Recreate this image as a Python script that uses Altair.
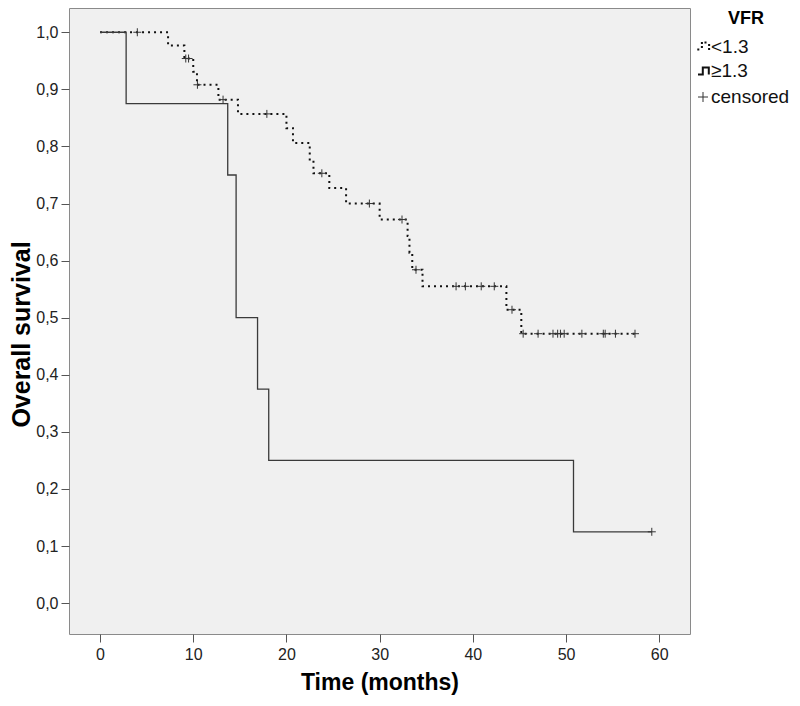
import altair as alt
import pandas as pd

# ---- data ----
# group "<1.3" (dotted) : step times and survival after each step
a_times = [0, 7.3, 9.05, 10.0, 10.4, 12.7, 14.8, 20.0, 20.7, 22.5, 22.9, 24.6,
           26.4, 30.0, 33.0, 33.2, 33.5, 34.6, 43.6, 45.2, 57.4]
a_surv = [1.0, 0.977, 0.954, 0.931, 0.908, 0.882, 0.857, 0.832, 0.806, 0.775,
          0.753, 0.727, 0.700, 0.672, 0.643, 0.614, 0.584, 0.555, 0.514, 0.472, 0.472]
a_cens_t = [4.0, 9.2, 9.5, 10.45, 13.2, 17.9, 23.8, 28.9, 32.4, 33.9, 38.2, 39.2,
            40.9, 42.3, 44.2, 45.4, 47.0, 48.6, 49.1, 49.4, 49.8, 51.7, 54.0,
            54.2, 55.3, 57.4]
a_cens_s = [1.0, 0.954, 0.954, 0.908, 0.882, 0.857, 0.753, 0.700, 0.672, 0.584,
            0.555, 0.555, 0.555, 0.555, 0.514, 0.472, 0.472, 0.472, 0.472, 0.472,
            0.472, 0.472, 0.472, 0.472, 0.472, 0.472]

# group ">=1.3" (solid)
b_times = [0, 2.8, 13.7, 14.6, 16.9, 18.1, 50.8, 59.2]
b_surv = [1.0, 0.875, 0.75, 0.5, 0.375, 0.25, 0.125, 0.125]
b_cens_t = [59.2]
b_cens_s = [0.125]

x_ticks = [0, 10, 20, 30, 40, 50, 60]
y_ticks = [0.0, 0.1, 0.2, 0.3, 0.4, 0.5, 0.6, 0.7, 0.8, 0.9, 1.0]

legend_title = "VFR"
legend_labels = ["<1.3", "\u22651.3", "censored"]

# ---- tables ----
df_a = pd.DataFrame({"t": a_times, "s": a_surv})
df_b = pd.DataFrame({"t": b_times, "s": b_surv})
df_c = pd.DataFrame({"t": a_cens_t + b_cens_t, "s": a_cens_s + b_cens_s})

FONT = "Liberation Sans"
X_DOM = [-3.33, 63.3]
Y_DOM = [-0.054, 1.0425]

xenc = alt.X("t:Q", scale=alt.Scale(domain=X_DOM, nice=False, zero=False),
             axis=alt.Axis(values=x_ticks, title="Time (months)", grid=False,
                           domain=False, tickSize=8, tickColor="#555",
                           labelFontSize=16, labelColor="#222", labelFont=FONT,
                           labelPadding=4, titleFont=FONT, titleFontSize=23,
                           titleFontWeight="bold", titleColor="#000",
                           titleBaseline="top", titleY=37))
yenc = alt.Y("s:Q", scale=alt.Scale(domain=Y_DOM, nice=False, zero=False),
             axis=alt.Axis(values=y_ticks, title="Overall survival", grid=False,
                           domain=False, tickSize=8, tickColor="#555",
                           labelFontSize=16, labelColor="#222", labelFont=FONT,
                           labelPadding=3,
                           labelExpr="replace(format(datum.value, '.1f'), '.', ',')",
                           titleFont=FONT, titleFontSize=25, titleFontWeight="bold",
                           titleColor="#000", titleX=-48, titleY=326,
                           titleAlign="center", titleBaseline="middle", titleAngle=-90))

line_a = alt.Chart(df_a).mark_line(
    interpolate="step-after", color="#111", strokeWidth=2, strokeDash=[2, 4],
    strokeCap="butt").encode(x=xenc, y=yenc)
line_b = alt.Chart(df_b).mark_line(
    interpolate="step-after", color="#3a3a3a", strokeWidth=1.3).encode(x="t:Q", y="s:Q")

PLUS = "M-1,0H1M0,-1V1"
cens = alt.Chart(df_c).mark_point(
    shape=PLUS, filled=False, stroke="#333", strokeWidth=1, size=64, opacity=1
).encode(x="t:Q", y="s:Q")

# ---- legend (drawn beside the plot) ----
leg_df = pd.DataFrame({"k": [0]})
STEP = "M-1,0.6H-0.2V-0.6H0.8V0.6"
DOTS = " ".join(
    f"M{px - 0.17:.2f},{py - 0.17:.2f}h0.34v0.34h-0.34z"
    for px, py in [(-0.95, 0.6), (-0.35, 0.15), (-0.35, -0.5), (0.25, -0.6),
                   (0.85, -0.15), (0.85, 0.5)])

leg_title = alt.Chart(leg_df).mark_text(
    text=legend_title, font=FONT, fontSize=18, fontWeight="bold", align="center",
    baseline="middle", color="#000").encode(x=alt.value(677), y=alt.value(11))
leg_texts = []
for lab, yy in zip(legend_labels, [39, 63, 89]):
    leg_texts.append(alt.Chart(leg_df).mark_text(
        text=lab, font=FONT, fontSize=19, align="left", baseline="middle",
        color="#111").encode(x=alt.value(642), y=alt.value(yy)))
g_dots = alt.Chart(leg_df).mark_point(
    shape=DOTS, filled=True, fill="#111", size=144, opacity=1, strokeWidth=0
).encode(x=alt.value(635), y=alt.value(38))
g_step = alt.Chart(leg_df).mark_point(
    shape=STEP, filled=False, stroke="#111", strokeWidth=2, size=144, opacity=1
).encode(x=alt.value(635), y=alt.value(63))
g_plus = alt.Chart(leg_df).mark_point(
    shape=PLUS, filled=False, stroke="#333", strokeWidth=1, size=100, opacity=1
).encode(x=alt.value(634), y=alt.value(89))

chart = alt.layer(line_a, line_b, cens, leg_title, *leg_texts, g_dots, g_step, g_plus
).properties(
    width=621, height=626,
    autosize=alt.AutoSizeParams(type="none"),
    padding={"left": 61, "top": 0, "right": 102, "bottom": 64},
    background="#ffffff",
).configure_view(fill="#f0f0f0", stroke="#8a8a8a", strokeWidth=1)

chart.save("out.html", embed_options={"renderer": "svg", "actions": False})
